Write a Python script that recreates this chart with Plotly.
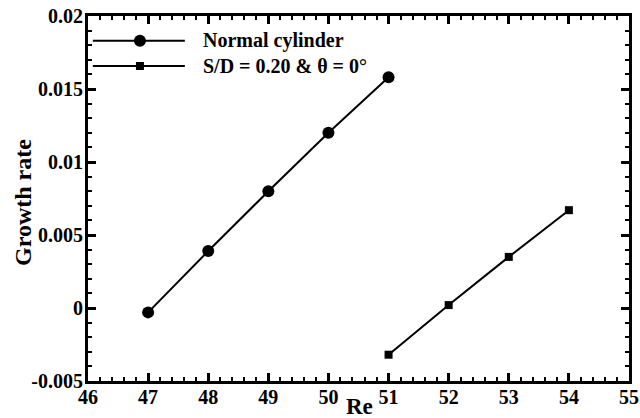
import plotly.graph_objects as go

re_normal = [47, 48, 49, 50, 51]
gr_normal = [-0.0003, 0.0039, 0.0080, 0.0120, 0.0158]
re_sd = [51, 52, 53, 54]
gr_sd = [-0.0032, 0.0002, 0.0035, 0.0067]
labels = ["Normal cylinder", "S/D = 0.20 & \u03b8 = 0\u00b0"]
x_ticks = [46, 47, 48, 49, 50, 51, 52, 53, 54, 55]
y_ticks = [-0.005, 0, 0.005, 0.01, 0.015, 0.02]
y_ticktext = ["-0.005", "0", "0.005", "0.01", "0.015", "0.02"]
x_title = "Re"
y_title = "Growth rate"

FONT = "Liberation Serif"

fig = go.Figure()
fig.add_trace(go.Scatter(x=re_normal, y=gr_normal, mode="lines+markers",
                         line=dict(color="black", width=2),
                         marker=dict(symbol="circle", size=12, color="black"),
                         name=labels[0], showlegend=False))
fig.add_trace(go.Scatter(x=re_sd, y=gr_sd, mode="lines+markers",
                         line=dict(color="black", width=2),
                         marker=dict(symbol="square", size=8, color="black"),
                         name=labels[1], showlegend=False))

# manual legend (paper coords)
rows = [0.932, 0.863]
for i, (lab, yy) in enumerate(zip(labels, rows)):
    fig.add_shape(type="line", xref="paper", yref="paper", x0=0.009, x1=0.179,
                  y0=yy, y1=yy, line=dict(color="black", width=2))
    fig.add_annotation(xref="paper", yref="paper", x=0.208, y=yy, text="<b>%s</b>" % lab,
                       showarrow=False, xanchor="left", yanchor="middle",
                       font=dict(family=FONT, size=20, color="black"))
# legend markers
fig.add_shape(type="circle", xref="paper", yref="paper", xsizemode="pixel", ysizemode="pixel",
              xanchor=0.096, yanchor=rows[0], x0=-6, x1=6, y0=-6, y1=6,
              fillcolor="black", line=dict(color="black", width=0))
fig.add_shape(type="rect", xref="paper", yref="paper", xsizemode="pixel", ysizemode="pixel",
              xanchor=0.096, yanchor=rows[1], x0=-4, x1=4, y0=-4, y1=4,
              fillcolor="black", line=dict(color="black", width=0))

# axis titles
fig.add_annotation(xref="paper", yref="paper", x=0.501, y=-0.071, text="<b>%s</b>" % x_title,
                   showarrow=False, xanchor="center", yanchor="middle",
                   font=dict(family=FONT, size=23, color="black"))
fig.add_annotation(xref="paper", yref="paper", x=-0.120, y=0.488, text="<b>%s</b>" % y_title,
                   showarrow=False, xanchor="center", yanchor="middle", textangle=-90,
                   font=dict(family=FONT, size=24, color="black"))

axis_common = dict(showline=True, linecolor="black", linewidth=3, mirror="allticks",
                   ticks="inside", ticklen=8, tickwidth=2.5, tickcolor="black",
                   showgrid=False, zeroline=False, automargin=False,
                   tickfont=dict(family=FONT, size=20, color="black"))

fig.update_xaxes(range=[46, 55], tickvals=x_ticks, ticktext=["<b>%d</b>" % v for v in x_ticks],
                 ticklabelstandoff=-4,
                 minor=dict(dtick=0.2, ticks="inside", ticklen=4, tickwidth=1.5, tickcolor="black", showgrid=False),
                 **axis_common)
fig.update_yaxes(range=[-0.005, 0.02],
                 tickvals=y_ticks, ticktext=["<b>%s</b>" % t for t in y_ticktext],
                 ticklabelstandoff=-2,
                 minor=dict(dtick=0.001, ticks="inside", ticklen=4, tickwidth=1.5, tickcolor="black", showgrid=False),
                 **axis_common)

fig.update_layout(width=640, height=418, margin=dict(l=88, r=11, t=16, b=37),
                  plot_bgcolor="white", paper_bgcolor="white", showlegend=False)

fig.write_html("out.html")
